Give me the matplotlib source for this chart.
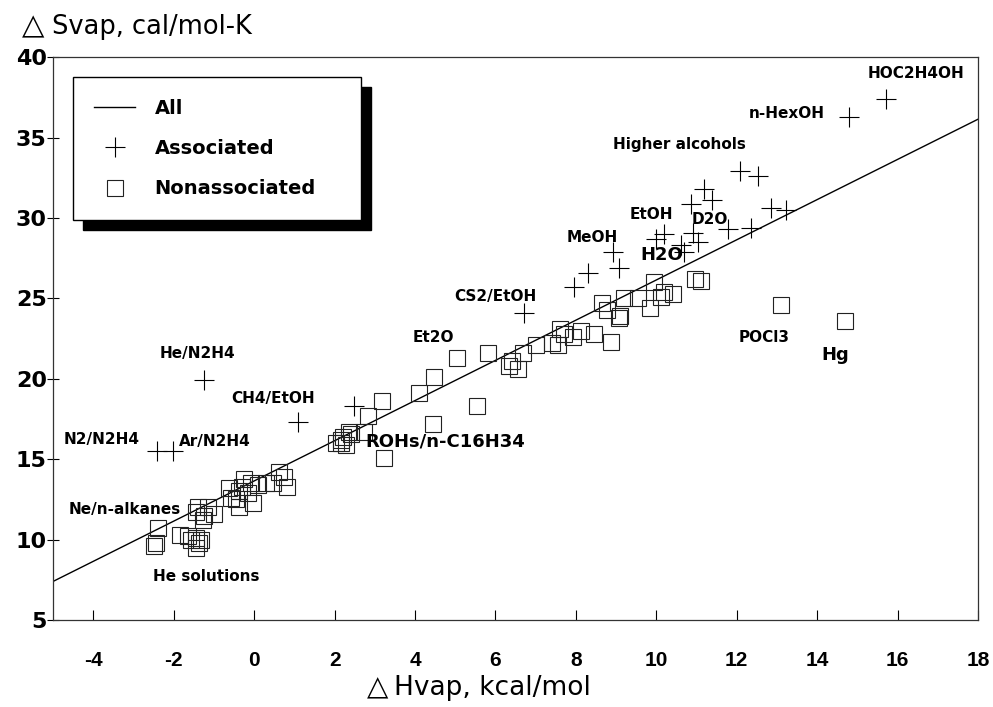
import matplotlib
matplotlib.use("Agg")
import matplotlib.pyplot as plt
from matplotlib.patches import Rectangle

plt.rcParams['font.family'] = ['Liberation Sans', 'DejaVu Sans']
plt.rcParams['axes.unicode_minus'] = False

# associated liquids (+)
assoc_x = [15.7, 14.8, 12.07, 12.54, 11.19, 11.39, 10.87, 12.84, 13.23, 12.36, 11.79,
           10.2, 10.92, 11.04, 10.0, 10.62, 10.7, 8.93, 9.08, 8.31, 7.96, 6.72,
           2.49, 1.1, -1.24, -2.41, -2.01]
assoc_y = [37.4, 36.3, 32.9, 32.6, 31.8, 31.1, 30.9, 30.6, 30.5, 29.4, 29.3,
           29.0, 29.1, 28.5, 28.7, 28.3, 27.9, 27.9, 26.9, 26.6, 25.7, 24.1,
           18.3, 17.3, 19.9, 15.5, 15.5]

# nonassociated liquids (squares)
nonassoc_x = [13.1, 14.68, 4.45, 3.23, 5.55, 5.05, 5.82, 4.48, 4.1, 3.18, 2.84, 2.74,
              2.36, 2.16, 2.04, 2.29, 2.16, 2.41, 2.2,
              6.34, 6.57, 6.69, 7.0, 7.4, 7.6, 7.56, 7.94, 8.13, 8.46, 8.88, 8.66,
              8.78, 9.08, 9.1, 9.2, 9.55, 9.83, 9.93, 10.12, 10.42, 10.2, 10.95,
              11.12, 7.7, 6.4,
              0.62, 0.75, 0.82, 0.47, 0.1, -0.07, -0.25, -0.37, -0.02, -0.62, -0.57,
              -0.45, -0.37, -1.0, -1.14, -1.4, -1.44, -1.24, -1.64, -1.84, -1.44,
              -1.37, -1.44, -1.32, -1.57, -2.39, -2.44, -2.49, -1.27, -0.3, -0.15, 0.3]
nonassoc_y = [24.6, 23.6, 17.2, 15.1, 18.3, 21.3, 21.6, 20.1, 19.1, 18.6, 17.7, 16.7,
              16.7, 16.0, 16.0, 15.9, 16.2, 16.6, 16.4,
              20.8, 20.6, 21.6, 22.1, 22.2, 23.1, 22.1, 22.6, 23.0, 22.8, 22.3, 24.7,
              24.3, 23.8, 23.9, 25.0, 25.0, 24.4, 26.0, 25.1, 25.3, 25.4, 26.2,
              26.1, 22.8, 21.1,
              14.2, 13.9, 13.3, 13.5, 13.4, 13.5, 13.8, 13.0, 12.3, 13.2, 12.6,
              12.5, 12.0, 11.6, 12.0, 12.0, 11.7, 11.5, 10.2, 10.3, 10.1,
              9.8, 9.5, 10.0, 10.0, 10.7, 9.8, 9.6, 11.2, 13.3, 12.9, 13.5]

# regression line "All"
fit_slope = 1.25
fit_intercept = 13.65

labels = ["HOC2H4OH", "n-HexOH", "Higher alcohols", "EtOH", "D2O", "MeOH", "H2O",
          "CS2/EtOH", "Et2O", "POCl3", "Hg", "He/N2H4", "CH4/EtOH", "N2/N2H4",
          "Ar/N2H4", "ROHs/n-C16H34", "Ne/n-alkanes", "He solutions"]
label_pos = [(15.25, 39.0), (12.31, 36.5), (8.93, 34.6), (9.33, 30.2), (10.87, 29.9),
             (7.76, 28.8), (9.6, 27.7), (4.98, 25.1), (3.93, 22.6), (12.04, 22.6),
             (14.1, 21.5), (-2.36, 21.6), (-0.57, 18.8), (-4.73, 16.2), (-1.87, 16.1),
             (2.76, 16.1), (-4.6, 11.9), (-2.51, 7.7)]
big_labels = ["H2O", "Hg", "ROHs/n-C16H34"]

fig = plt.figure(figsize=(9.93, 7.07), dpi=100)
ax = fig.add_axes([0.0534, 0.123, 0.9316, 0.796])

xmin, xmax = -5, 18
ax.plot([xmin, xmax], [fit_intercept + fit_slope*xmin, fit_intercept + fit_slope*xmax],
        color='black', lw=1.0, label='All')
ax.plot(assoc_x, assoc_y, linestyle='none', marker='+', ms=14, mew=0.8,
        color='black', label='Associated')
ax.plot(nonassoc_x, nonassoc_y, linestyle='none', marker='s', ms=11, mew=0.8,
        mfc='none', mec='#222222', label='Nonassociated')

for t, (lx, ly) in zip(labels, label_pos):
    fs = 13 if t in big_labels else 11
    ax.text(lx, ly, t, fontsize=fs, fontweight='bold', ha='left', va='center',
            family=['DejaVu Sans'])

ax.set_xlim(xmin, xmax)
ax.set_ylim(5, 40)
ax.set_xticks(range(-4, 19, 2))
ax.set_yticks(range(5, 41, 5))
ax.tick_params(axis='x', direction='in', length=7, width=0.8, pad=22, labelsize=15)
ax.tick_params(axis='y', direction='inout', length=9, width=0.8, pad=0, labelsize=16)
for lab in ax.get_xticklabels():
    lab.set_fontweight('bold')
for lab in ax.get_yticklabels():
    lab.set_fontweight('bold')
    lab.set_family(['DejaVu Sans'])
for sp in ax.spines.values():
    sp.set_linewidth(0.9)
    sp.set_color('#333333')

fig.text(0.022, 0.963, '\u25b3', fontsize=21, family=['DejaVu Sans'], va='center')
fig.text(0.052, 0.962, 'Svap, cal/mol-K', fontsize=18.5, va='center', family=['DejaVu Sans'])
fig.text(0.370, 0.027, '\u25b3', fontsize=20, family=['DejaVu Sans'], va='center')
fig.text(0.397, 0.027, 'Hvap, kcal/mol', fontsize=19, va='center', family=['DejaVu Sans'])

leg = ax.legend(loc='upper left', bbox_to_anchor=(0.0216, 0.9645, 0.311, 0.0),
                mode='expand', fancybox=False, edgecolor='black', framealpha=1,
                prop={'family': 'DejaVu Sans', 'weight': 'bold', 'size': 14},
                handlelength=2.1, borderpad=1.1, labelspacing=1.1, handletextpad=1.0,
                borderaxespad=0)
leg.get_frame().set_linewidth(1.0)
leg.set_zorder(6)

fig.canvas.draw()
bb = leg.get_window_extent()
inv = ax.transAxes.inverted()
(x0, y0), (x1, y1) = inv.transform([(bb.x0 + 10, bb.y0 - 10), (bb.x1 + 10, bb.y1 - 10)])
ax.add_patch(Rectangle((x0, y0), x1 - x0, y1 - y0, transform=ax.transAxes,
                       facecolor='black', edgecolor='black', zorder=5, clip_on=False))

fig.savefig('out.png', dpi=100)
